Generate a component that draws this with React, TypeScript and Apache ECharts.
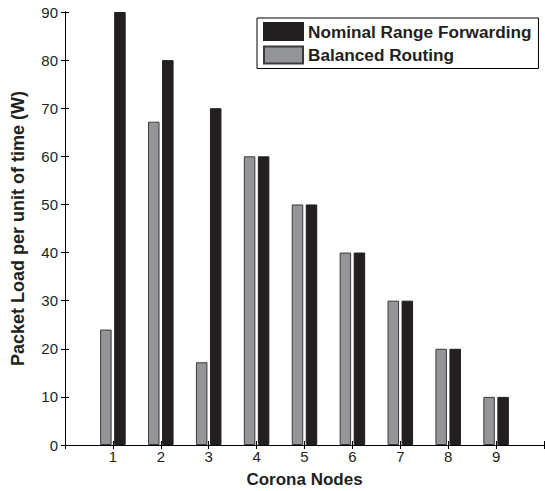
import React, { useEffect, useRef } from "react";
import * as echarts from "echarts";

const nodes = [1, 2, 3, 4, 5, 6, 7, 8, 9];
const nominalRange = [90, 80, 70, 60, 50, 40, 30, 20, 10];
const balancedRouting = [24, 67.2, 17.2, 60, 50, 40, 30, 20, 10];
const yTicks = [0, 10, 20, 30, 40, 50, 60, 70, 80, 90];

const FONT = "'Liberation Sans', Arial, Helvetica, sans-serif";
const BLACK = "#231f20";
const GREY = "#939598";

export default function App() {
  const ref = useRef<HTMLDivElement>(null);
  useEffect(() => {
    if (!ref.current) return;
    const chart = echarts.init(ref.current, undefined, { renderer: "svg" });
    const axisCommon = {
      axisLine: { show: true, lineStyle: { color: "#000", width: 1 } },
      axisTick: { show: true, inside: true, length: 4, lineStyle: { color: "#000" } },
      splitLine: { show: false },
    };
    chart.setOption({
      animation: false,
      backgroundColor: "#fff",
      grid: {
        left: 65,
        right: 1,
        top: 12,
        bottom: 46,
        containLabel: false,
        outerBoundsMode: "none",
      },
      legend: {
        data: ["Nominal Range Forwarding", "Balanced Routing"],
        orient: "vertical",
        left: 257,
        top: 18,
        icon: "rect",
        itemWidth: 39,
        itemHeight: 17,
        itemGap: 4.5,
        padding: [4, 7, 4, 6],
        borderColor: "#000",
        borderWidth: 1,
        backgroundColor: "#fff",
        textStyle: { fontFamily: FONT, fontWeight: "bold", fontSize: 17.2, color: BLACK },
      },
      xAxis: [
        {
          type: "value",
          min: 0,
          max: 10,
          interval: 1,
          position: "bottom",
          name: "Corona Nodes",
          nameLocation: "middle",
          nameGap: 26,
          nameTextStyle: { fontFamily: FONT, fontWeight: "bold", fontSize: 17, color: BLACK },
          axisLabel: {
            fontFamily: FONT,
            fontSize: 15,
            color: BLACK,
            margin: 4,
            formatter: (v: number) => (nodes.includes(v) ? String(v) : ""),
          },
          ...axisCommon,
        },
        {
          type: "value",
          min: 0,
          max: 10,
          interval: 1,
          position: "top",
          axisLabel: { show: false },
          ...axisCommon,
        },
      ],
      yAxis: [
        {
          type: "value",
          min: yTicks[0],
          max: yTicks[yTicks.length - 1],
          interval: 10,
          position: "left",
          name: "Packet Load per unit of time (W)",
          nameLocation: "middle",
          nameGap: 38,
          nameTextStyle: { fontFamily: FONT, fontWeight: "bold", fontSize: 18, color: BLACK },
          axisLabel: { fontFamily: FONT, fontSize: 15, color: BLACK, margin: 7 },
          ...axisCommon,
        },
        {
          type: "value",
          min: yTicks[0],
          max: yTicks[yTicks.length - 1],
          interval: 10,
          position: "right",
          axisLabel: { show: false },
          ...axisCommon,
        },
      ],
      series: [
        {
          name: "Balanced Routing",
          type: "bar",
          xAxisIndex: 0,
          yAxisIndex: 0,
          barWidth: 11.5,
          barGap: "22%",
          itemStyle: { color: GREY, borderColor: "#3a3a3a", borderWidth: 1 },
          data: nodes.map((n, i) => [n, balancedRouting[i]]),
        },
        {
          name: "Nominal Range Forwarding",
          type: "bar",
          xAxisIndex: 0,
          yAxisIndex: 0,
          barWidth: 11.5,
          barGap: "22%",
          itemStyle: { color: BLACK, borderColor: BLACK, borderWidth: 1 },
          data: nodes.map((n, i) => [n, nominalRange[i]]),
        },
      ],
    });
    return () => chart.dispose();
  }, []);
  return (
    <div
      ref={ref}
      style={{ position: "fixed", left: 0, top: 0, width: 545, height: 491, background: "#fff" }}
    />
  );
}
